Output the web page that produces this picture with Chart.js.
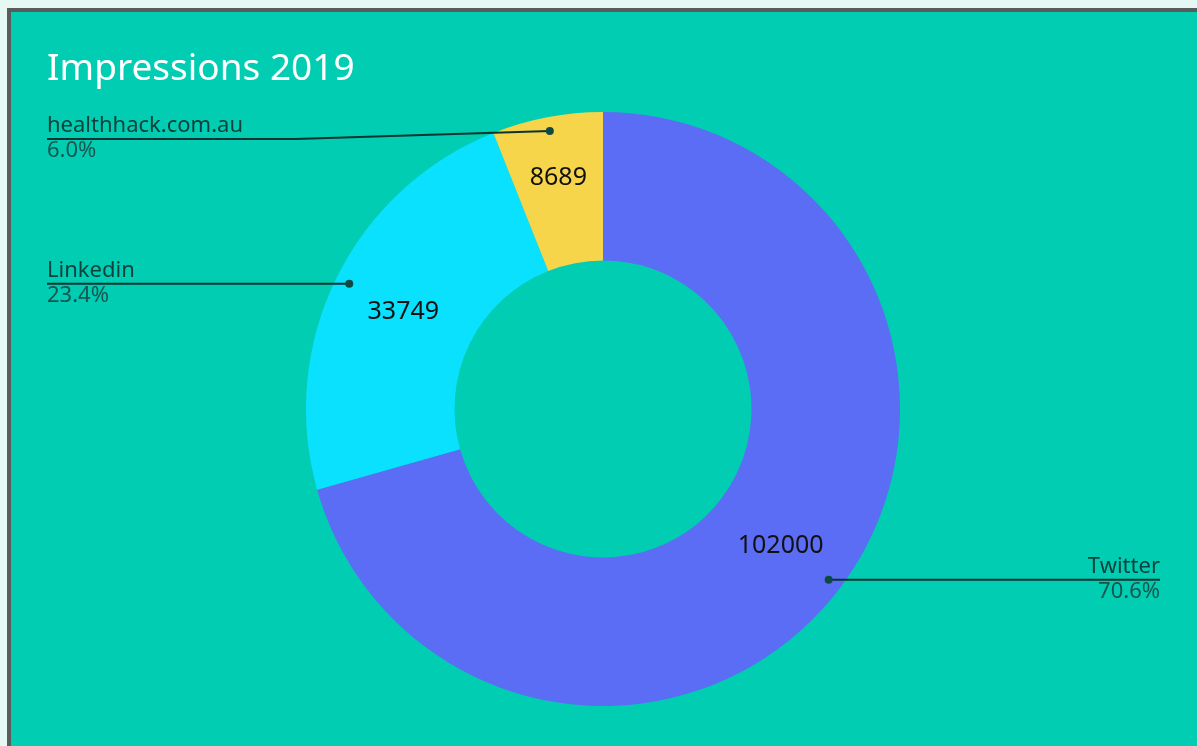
<!DOCTYPE html>
<html>
<head>
<meta charset="utf-8">
<script src="https://cdn.jsdelivr.net/npm/chart.js@4.4.1/dist/chart.umd.min.js"></script>
<style>
    html, body { margin: 0; padding: 0; width: 1197px; height: 746px; overflow: hidden; background: #e6f8f4; }
    #frame {
        position: absolute; left: 7px; top: 8px; width: 1186px; height: 734px;
        border: 4px solid #585c5b; background: #00cdb2;
    }
    #wrap { position: absolute; left: 0; top: 0; width: 1197px; height: 746px; }
</style>
</head>
<body>
<div id="frame"></div>
<div id="wrap"><canvas id="impressions"></canvas></div>
<script>
'use strict';

// data
const TITLE = 'Impressions 2019';
const LABELS = ['Twitter', 'Linkedin', 'healthhack.com.au'];
const VALUES = [102000, 33749, 8689];
const COLORS = ['#5b6cf5', '#0ae1ff', '#f7d54b'];

const FONT = "'Segoe UI', 'Noto Sans', sans-serif";

// draws the title, values inside the slices and the outside labels with leader lines
const labelsPlugin = {
    id: 'impressionLabels',
    afterDatasetsDraw(chart) {
        const ctx = chart.ctx;
        const meta = chart.getDatasetMeta(0);
        const total = VALUES.reduce((a, b) => a + b, 0);

        ctx.save();

        // title
        ctx.fillStyle = '#ffffff';
        ctx.font = '37px ' + FONT;
        ctx.textAlign = 'left';
        ctx.textBaseline = 'alphabetic';
        ctx.fillText(TITLE, 47, 80);

        meta.data.forEach((arc, i) => {
            const p = arc.getProps(['x', 'y', 'startAngle', 'endAngle', 'innerRadius', 'outerRadius'], true);
            const mid = (p.startAngle + p.endAngle) / 2;
            const cos = Math.cos(mid), sin = Math.sin(mid);

            // value inside the slice
            const rMid = (p.innerRadius + p.outerRadius) / 2 + (i === 2 ? 15 : 0);
            ctx.fillStyle = '#111111';
            ctx.font = '25px ' + FONT;
            ctx.textAlign = 'center';
            ctx.textBaseline = 'middle';
            ctx.fillText(String(VALUES[i]), p.x + cos * rMid, p.y + sin * rMid + 2);

            // leader line
            const rDot = p.outerRadius - 14;
            const dx = p.x + cos * rDot;
            const dy = p.y + sin * rDot;
            const right = cos > 0;
            const endX = right ? 1160 : 47;
            const lineY = right ? dy : Math.max(dy, 139);

            ctx.strokeStyle = '#0b3430';
            ctx.lineWidth = 2;
            ctx.beginPath();
            ctx.moveTo(dx, dy);
            if (lineY !== dy) {
                ctx.lineTo(dx - 254, lineY);
            }
            ctx.lineTo(endX, lineY);
            ctx.stroke();

            ctx.fillStyle = '#0e4a44';
            ctx.beginPath();
            ctx.arc(dx, dy, 4, 0, Math.PI * 2);
            ctx.fill();

            // category name and share
            ctx.textAlign = right ? 'right' : 'left';
            ctx.font = '22px ' + FONT;
            ctx.textBaseline = 'alphabetic';
            ctx.fillStyle = '#0d413b';
            ctx.fillText(LABELS[i], endX, lineY - 7);
            ctx.textBaseline = 'top';
            ctx.fillStyle = '#17564f';
            ctx.fillText((VALUES[i] / total * 100).toFixed(1) + '%', endX, lineY + 1);
        });

        ctx.restore();
    }
};

const config = {
    type: 'doughnut',
    data: {
        labels: LABELS,
        datasets: [{
            data: VALUES,
            backgroundColor: COLORS,
            borderWidth: 0,
            hoverOffset: 0
        }]
    },
    options: {
        responsive: false,
        animation: false,
        cutout: '50%',
        layout: {
            padding: { left: 9, right: 0, top: 112, bottom: 40 }
        },
        plugins: {
            legend: { display: false },
            tooltip: { enabled: false },
            title: { display: false }
        }
    },
    plugins: [labelsPlugin]
};

const canvas = document.getElementById('impressions');
canvas.width = 1197;
canvas.height = 746;
new Chart(canvas, config);
</script>
</body>
</html>
